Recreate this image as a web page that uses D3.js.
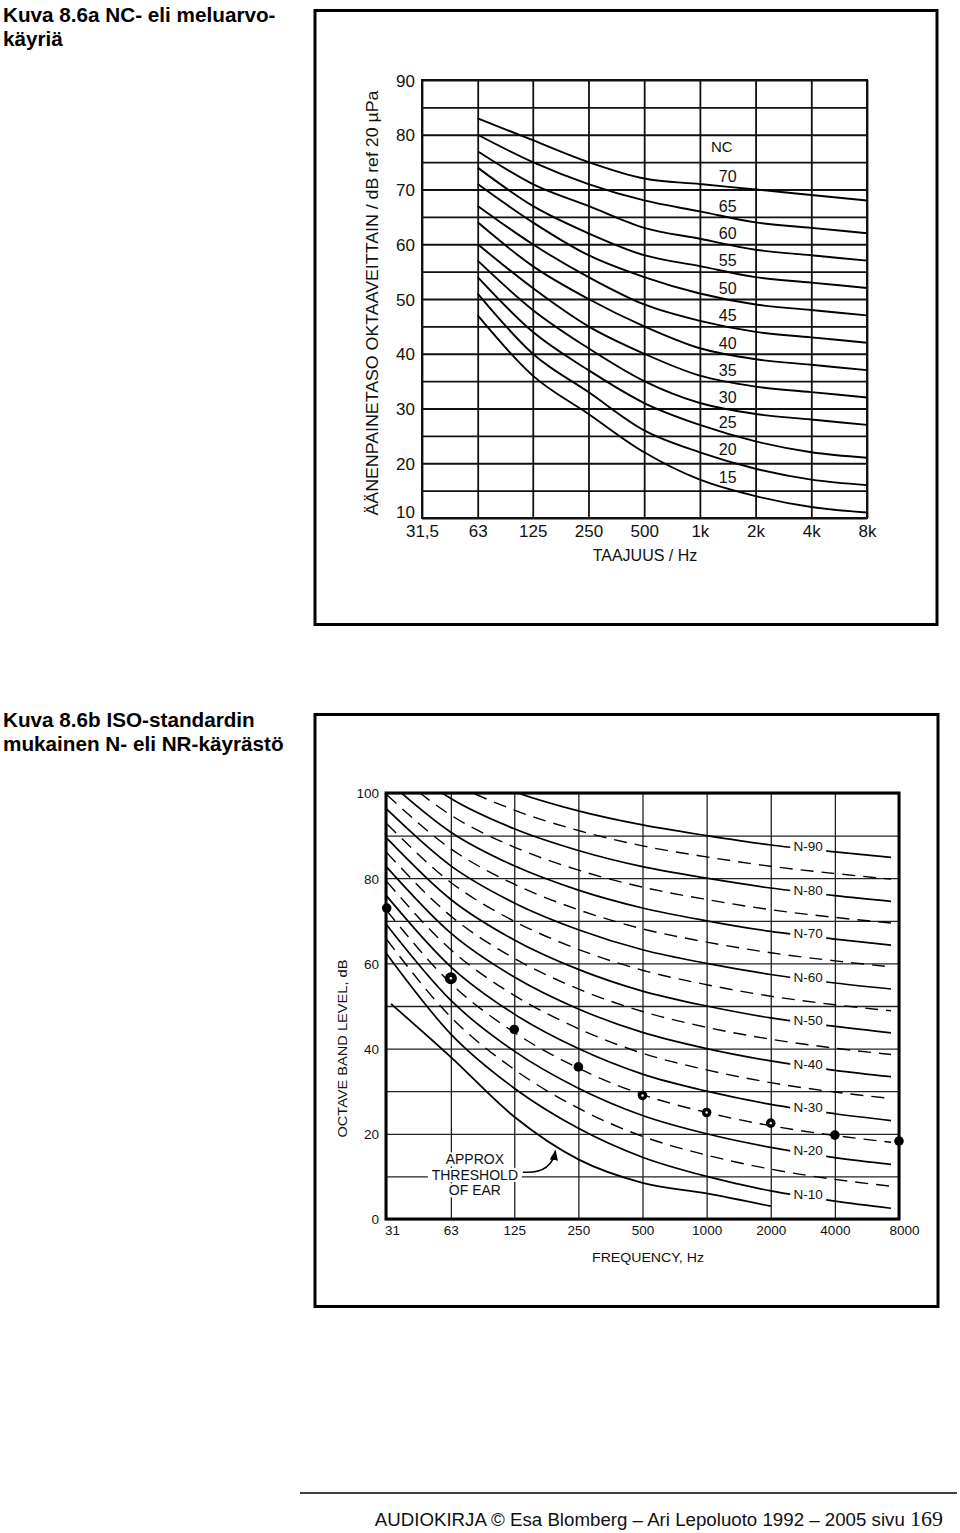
<!DOCTYPE html>
<html>
<head>
<meta charset="utf-8">
<script src="https://cdn.jsdelivr.net/npm/d3@7"></script>
<style>
  body { margin: 0; background: white; }
  svg { display: block; }
  text { font-family: "Liberation Sans", Arial, sans-serif; fill: #111; }
</style>
</head>
<body>
<svg id="page" width="960" height="1533"></svg>
<script>
// --- 8.6a NC curves ---
const ncFreqs = [63, 125, 250, 500, 1000, 2000, 4000, 8000]
const ncLevels = [70, 65, 60, 55, 50, 45, 40, 35, 30, 25, 20, 15]
const nc70 = [83, 79, 75, 72, 71, 70, 69, 68]
const nc65 = [80, 75, 71, 68, 66, 64, 63, 62]
const nc60 = [77, 71, 67, 63, 61, 59, 58, 57]
const nc55 = [74, 67, 62, 58, 56, 54, 53, 52]
const nc50 = [71, 64, 58, 54, 51, 49, 48, 47]
const nc45 = [67, 60, 54, 49, 46, 44, 43, 42]
const nc40 = [64, 56, 50, 45, 41, 39, 38, 37]
const nc35 = [60, 52, 45, 40, 36, 34, 33, 32]
const nc30 = [57, 48, 41, 35, 31, 29, 28, 27]
const nc25 = [54, 44, 37, 31, 27, 24, 22, 21]
const nc20 = [51, 40, 33, 26, 22, 19, 17, 16]
const nc15 = [47, 36, 29, 22, 17, 14, 12, 11]
const ncCurves = [nc70, nc65, nc60, nc55, nc50, nc45, nc40, nc35, nc30, nc25, nc20, nc15]
const topFreqTicks = [31.5, 63, 125, 250, 500, 1000, 2000, 4000, 8000]
const topFreqLabels = ["31,5", "63", "125", "250", "500", "1k", "2k", "4k", "8k"]
const topLevelTicks = [10, 15, 20, 25, 30, 35, 40, 45, 50, 55, 60, 65, 70, 75, 80, 85, 90]

// --- 8.6b ISO N (NR) curves ---
const nrFreqs = [31.5, 63, 125, 250, 500, 1000, 2000, 4000, 8000]
const nrSolidLevels = [90, 80, 70, 60, 50, 40, 30, 20, 10]
const nr90 = [116.6, 106.6, 100.3, 95.8, 92.5, 90, 87.8, 86.2, 84.7]
const nr80 = [109.8, 98.7, 91.6, 86.5, 82.7, 80, 77.7, 75.9, 74.4]
const nr70 = [103.0, 90.8, 82.9, 77.2, 73.0, 70, 67.5, 65.7, 64.1]
const nr60 = [96.2, 82.9, 74.2, 67.9, 63.2, 60, 57.4, 55.4, 53.8]
const nr50 = [89.4, 75.0, 65.5, 58.6, 53.5, 50, 47.2, 45.2, 43.5]
const nr40 = [82.6, 67.1, 56.8, 49.3, 43.8, 40, 37.1, 34.9, 33.2]
const nr30 = [75.8, 59.2, 48.1, 40.0, 34.0, 30, 26.9, 24.7, 22.9]
const nr20 = [69.0, 51.3, 39.4, 30.7, 24.3, 20, 16.8, 14.4, 12.6]
const nr10 = [62.2, 43.4, 30.7, 21.3, 14.5, 10, 6.6, 4.2, 2.3]
const nrSolid = [nr90, nr80, nr70, nr60, nr50, nr40, nr30, nr20, nr10]
const nr85 = [113.2, 102.7, 96.0, 91.2, 87.6, 85, 82.8, 81.1, 79.6]
const nr75 = [106.4, 94.8, 87.3, 81.9, 77.9, 75, 72.6, 70.8, 69.3]
const nr65 = [99.6, 86.9, 78.6, 72.6, 68.1, 65, 62.5, 60.6, 59.0]
const nr55 = [92.8, 79.0, 69.9, 63.3, 58.4, 55, 52.3, 50.3, 48.7]
const nr45 = [86.0, 71.1, 61.2, 54.0, 48.7, 45, 42.2, 40.1, 38.4]
const nr35 = [79.2, 63.2, 52.5, 44.7, 38.9, 35, 32.0, 29.8, 28.1]
const nr25 = [72.4, 55.3, 43.8, 35.4, 29.2, 25, 21.9, 19.6, 17.8]
const nr15 = [65.6, 47.4, 35.1, 26.0, 19.4, 15, 11.7, 9.3, 7.5]
const nrDashed = [nr85, nr75, nr65, nr55, nr45, nr35, nr25, nr15]
const thresholdFreqs = [33, 63, 125, 250, 500, 1000, 2000]
const thresholdLevels = [50.5, 38, 24, 14, 8.5, 6, 3]
const measuredLevels = [73, 56.5, 44.5, 35.7, 29, 25, 22.5, 19.7, 18.3]
const botFreqTicks = [31.25, 63, 125, 250, 500, 1000, 2000, 4000, 8000]
const botFreqLabels = ["31", "63", "125", "250", "500", "1000", "2000", "4000", "8000"]
const botLevelTicks = [0, 10, 20, 30, 40, 50, 60, 70, 80, 90, 100]

const svg = d3.select("#page")

// page headings
function heading(lines, y0) {
    lines.forEach((t, i) => {
        svg.append("text")
           .attr("x", 3).attr("y", y0 + i * 24)
           .attr("font-size", 20.7).attr("font-weight", "bold")
           .style("fill", "#000")
           .text(t)
    })
}
heading(["Kuva 8.6a NC- eli meluarvo-", "käyriä"], 22)
heading(["Kuva 8.6b ISO-standardin", "mukainen N- eli NR-käyrästö"], 727)

// picture frames
svg.append("rect").attr("x", 315).attr("y", 10.5).attr("width", 622).attr("height", 614)
   .attr("fill", "none").attr("stroke", "#000").attr("stroke-width", 3)
svg.append("rect").attr("x", 315).attr("y", 714.5).attr("width", 623).attr("height", 592)
   .attr("fill", "none").attr("stroke", "#000").attr("stroke-width", 3)

// ================= top chart =================
const xTop = d3.scaleLog().base(2).domain([31.5, 8000]).range([422, 867])
const yTop = d3.scaleLinear().domain([10, 90]).range([518, 80])
const ncChart = svg.append("g")

const topXAxis = ncChart.append("g")
   .attr("transform", "translate(0," + yTop(10) + ")")
   .call(d3.axisBottom(xTop).tickValues(topFreqTicks)
           .tickSize(-(yTop(10) - yTop(90))).tickPadding(7)
           .tickFormat((d, i) => topFreqLabels[i]))
const topYAxis = ncChart.append("g")
   .attr("transform", "translate(" + xTop(31.5) + ",0)")
   .call(d3.axisLeft(yTop).tickValues(topLevelTicks)
           .tickSize(-(xTop(8000) - xTop(31.5))).tickPadding(7)
           .tickFormat(d => d % 10 === 0 ? d : ""))
;[topXAxis, topYAxis].forEach(a => {
    a.select(".domain").remove()
    a.selectAll(".tick line").attr("stroke", "#111").attr("stroke-width", 1.8)
    a.selectAll(".tick text").attr("font-size", 17).style("fill", "#111")
})
// the lowest level label sits above its line so it clears "31,5"
topYAxis.selectAll(".tick text").attr("dy", d => d === 10 ? "-0.02em" : "0.36em")
ncChart.append("rect").attr("x", xTop(31.5)).attr("y", yTop(90))
   .attr("width", xTop(8000) - xTop(31.5)).attr("height", yTop(10) - yTop(90))
   .attr("fill", "none").attr("stroke", "#111").attr("stroke-width", 2)

const ncLine = d3.line()
    .x((d, i) => xTop(ncFreqs[i]))
    .y(d => yTop(d))
    .curve(d3.curveMonotoneX)

ncChart.selectAll(".nc")
   .data(ncCurves)
   .join("path")
   .attr("class", "nc")
   .attr("fill", "none").attr("stroke", "#000").attr("stroke-width", 1.9)
   .attr("d", ncLine)

// NC labels sit just above each curve between 1k and 2k
const ncLabelX = Math.sqrt(1000 * 2000)
ncCurves.forEach((c, i) => {
    const v = (c[4] + c[5]) / 2
    ncChart.append("text")
       .attr("x", xTop(ncLabelX)).attr("y", yTop(v) - 11)
       .attr("dy", "0.36em").attr("text-anchor", "middle")
       .attr("font-size", 16)
       .text(ncLevels[i])
})
ncChart.append("text")
   .attr("x", xTop(ncLabelX) - 6).attr("y", yTop((nc70[4] + nc70[5]) / 2) - 40)
   .attr("dy", "0.36em").attr("text-anchor", "middle")
   .attr("font-size", 15)
   .text("NC")

ncChart.append("text")
   .attr("transform", "translate(378," + (yTop(50) + 4) + ") rotate(-90)")
   .attr("text-anchor", "middle").attr("font-size", 17)
   .attr("textLength", 425).attr("lengthAdjust", "spacingAndGlyphs")
   .text("ÄÄNENPAINETASO OKTAAVEITTAIN / dB ref 20 µPa")
ncChart.append("text")
   .attr("x", 645).attr("y", 561)
   .attr("text-anchor", "middle").attr("font-size", 16)
   .text("TAAJUUS / Hz")

// ================= bottom chart =================
const xBot = d3.scaleLog().base(2).domain([31.25, 8000]).range([386, 899])
const yBot = d3.scaleLinear().domain([0, 100]).range([1219, 793])
const nrChart = svg.append("g")

const botXAxis = nrChart.append("g")
   .attr("transform", "translate(0," + yBot(0) + ")")
   .call(d3.axisBottom(xBot).tickValues(botFreqTicks)
           .tickSize(-(yBot(0) - yBot(100))).tickPadding(6)
           .tickFormat((d, i) => botFreqLabels[i]))
const botYAxis = nrChart.append("g")
   .attr("transform", "translate(" + xBot(31.25) + ",0)")
   .call(d3.axisLeft(yBot).tickValues(botLevelTicks)
           .tickSize(-(xBot(8000) - xBot(31.25))).tickPadding(7)
           .tickFormat(d => d % 20 === 0 ? d : ""))
;[botXAxis, botYAxis].forEach(a => {
    a.select(".domain").remove()
    a.selectAll(".tick line").attr("stroke", "#222").attr("stroke-width", 1.3)
    a.selectAll(".tick text").attr("font-size", 13.5).style("fill", "#111")
})
botYAxis.selectAll(".tick text").attr("dy", "0.36em")
botXAxis.selectAll(".tick text").attr("dx", (d, i) => i === 0 ? 6 : (i === 8 ? 5 : 0))

nrChart.append("clipPath").attr("id", "botClip")
   .append("rect").attr("x", xBot(31.25)).attr("y", yBot(100))
   .attr("width", xBot(8000) - xBot(31.25) - 8).attr("height", yBot(0) - yBot(100))

const nrLine = d3.line()
    .x((d, i) => xBot(nrFreqs[i]))
    .y(d => yBot(d))
    .curve(d3.curveMonotoneX)

const curves = nrChart.append("g").attr("clip-path", "url(#botClip)")
curves.selectAll(".nrd")
   .data(nrDashed)
   .join("path")
   .attr("class", "nrd")
   .attr("fill", "none").attr("stroke", "#000").attr("stroke-width", 1.4)
   .attr("stroke-dasharray", "13,8")
   .attr("d", nrLine)
curves.selectAll(".nrs")
   .data(nrSolid)
   .join("path")
   .attr("class", "nrs")
   .attr("fill", "none").attr("stroke", "#000").attr("stroke-width", 1.7)
   .attr("d", nrLine)

const thresholdLine = d3.line()
    .x((d, i) => xBot(thresholdFreqs[i]))
    .y(d => yBot(d))
    .curve(d3.curveMonotoneX)
curves.append("path")
   .datum(thresholdLevels)
   .attr("fill", "none").attr("stroke", "#000").attr("stroke-width", 1.8)
   .attr("d", thresholdLine)

// N labels with white backing between 2k and 4k
const nrLabelF = Math.sqrt(2000 * 4000) * 1.06
nrSolid.forEach((c, i) => {
    const v = (c[6] + c[7]) / 2
    const cx = xBot(nrLabelF)
    nrChart.append("rect")
       .attr("x", cx - 18).attr("y", yBot(v) - 9)
       .attr("width", 36).attr("height", 15).attr("fill", "white")
    nrChart.append("text")
       .attr("x", cx).attr("y", yBot(v) - 2)
       .attr("dy", "0.36em").attr("text-anchor", "middle")
       .attr("font-size", 13.5)
       .text("N-" + nrSolidLevels[i])
})

// measured spectrum points
const ringFreqs = [63, 500, 1000, 2000]
measuredLevels.forEach((v, i) => {
    const f = nrFreqs[i]
    nrChart.append("circle")
       .attr("cx", xBot(f)).attr("cy", yBot(v))
       .attr("r", f === 63 ? 6 : 4.8).attr("fill", "#000")
    if (ringFreqs.includes(f)) {
        nrChart.append("circle")
           .attr("cx", xBot(f)).attr("cy", yBot(v))
           .attr("r", 1.2).attr("fill", "#fff")
    }
})

// plot frame
nrChart.append("rect").attr("x", xBot(31.25)).attr("y", yBot(100))
   .attr("width", xBot(8000) - xBot(31.25)).attr("height", yBot(0) - yBot(100))
   .attr("fill", "none").attr("stroke", "#000").attr("stroke-width", 3)

// threshold annotation
const noteX = xBot(63) + 24
;["APPROX", "THRESHOLD", "OF EAR"].forEach((t, i) => {
    const ty = yBot(14) + i * 15.5
    nrChart.append("rect").attr("x", noteX - (i === 1 ? 47 : 29)).attr("y", ty - 7)
       .attr("width", i === 1 ? 94 : 58).attr("height", 14).attr("fill", "white")
    nrChart.append("text")
       .attr("x", noteX).attr("y", ty)
       .attr("dy", "0.36em").attr("text-anchor", "middle")
       .attr("font-size", 14)
       .text(t)
})
svg.append("defs").append("marker")
   .attr("id", "arrow").attr("viewBox", "0 0 10 10")
   .attr("refX", 9).attr("refY", 5)
   .attr("markerWidth", 7).attr("markerHeight", 7)
   .attr("orient", "auto")
   .append("path").attr("d", "M0,1 L10,5 L0,9 Z").attr("fill", "#000")
const ax0 = noteX + 48, ay0 = yBot(11)
const ax1 = xBot(195), ay1 = yBot(16)
nrChart.append("path")
   .attr("d", "M" + ax0 + "," + ay0 + " Q" + (ax1 - 4) + "," + (ay0 + 2) + " " + ax1 + "," + ay1)
   .attr("fill", "none").attr("stroke", "#000").attr("stroke-width", 1.5)
   .attr("marker-end", "url(#arrow)")

nrChart.append("text")
   .attr("transform", "translate(347," + yBot(40) + ") rotate(-90)")
   .attr("text-anchor", "middle").attr("font-size", 13.5)
   .attr("textLength", 178).attr("lengthAdjust", "spacingAndGlyphs")
   .text("OCTAVE BAND LEVEL, dB")
nrChart.append("text")
   .attr("x", 648).attr("y", 1262)
   .attr("text-anchor", "middle").attr("font-size", 13.5)
   .attr("textLength", 112).attr("lengthAdjust", "spacingAndGlyphs")
   .text("FREQUENCY, Hz")

// ================= footer =================
svg.append("line").attr("x1", 300).attr("x2", 957).attr("y1", 1493).attr("y2", 1493)
   .attr("stroke", "#000").attr("stroke-width", 1.5)
const foot = svg.append("text").attr("x", 943).attr("y", 1526).attr("text-anchor", "end")
foot.append("tspan").attr("font-size", 18.7)
    .text("AUDIOKIRJA © Esa Blomberg – Ari Lepoluoto 1992 – 2005 sivu ")
foot.append("tspan").attr("font-size", 22)
    .style("font-family", "'Liberation Serif', 'Times New Roman', serif")
    .text("169")
</script>
</body>
</html>
